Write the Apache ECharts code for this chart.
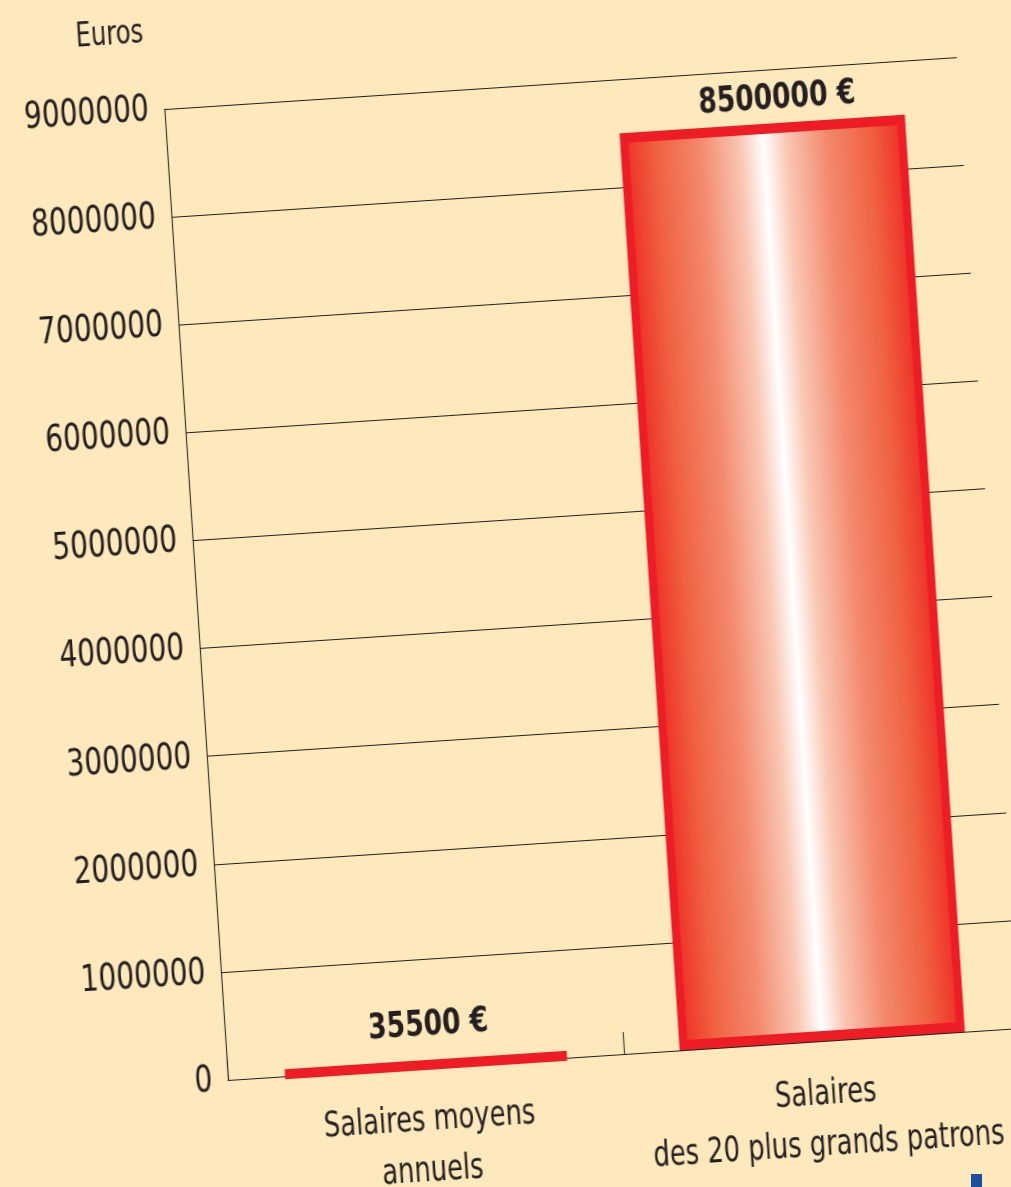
<!DOCTYPE html>
<html>
<head>
<meta charset="utf-8">
<script src="https://cdn.jsdelivr.net/npm/echarts@6/dist/echarts.min.js"></script>
<style>
  html, body { margin: 0; padding: 0; background: #fee9bc; overflow: hidden; width: 1011px; height: 1187px; }
  /* tilted + slightly condensed, like the printed figure */
  #chart {
    position: absolute; left: -200px; top: 0; width: 1500px; height: 1320px;
    transform-origin: 428px 1080px;
    transform: rotate(-3.75deg) scaleX(0.82);
  }
  #blue { position: absolute; left: 971px; top: 1174px; width: 11px; height: 13px; background: #1b4f9f; }
</style>
</head>
<body>
<div id="chart"></div>
<div id="blue"></div>
<script>
const categories = ['Salaires moyens\nannuels', 'Salaires\ndes 20 plus grands patrons'];
const salaries = [35500, 8500000];
const valueLabels = ['35500 €', '8500000 €'];
const yTicks = { min: 0, max: 9000000, interval: 1000000 };

const SQUEEZE = 0.82;
const FONT = '"DejaVu Sans Condensed", "DejaVu Sans", sans-serif';
const INK = '#231f20';

const barFill = new echarts.graphic.LinearGradient(0, 0, 1, 0, [
    { offset: 0, color: '#ee2a24' },
    { offset: 0.12, color: '#f0603f' },
    { offset: 0.28, color: '#f38a6f' },
    { offset: 0.42, color: '#f9c8b4' },
    { offset: 0.5, color: '#ffffff' },
    { offset: 0.58, color: '#f9c8b4' },
    { offset: 0.72, color: '#f38a6f' },
    { offset: 0.88, color: '#f0603f' },
    { offset: 1, color: '#ee2a24' },
]);

// label tweaks per bar (distance above the bar, small horizontal nudge)
const labelDist = [16, 6];
const labelNudge = [6, 20];

const chart = echarts.init(document.getElementById('chart'));
chart.setOption({
    backgroundColor: 'transparent',
    animation: false,
    grid: { left: 428, top: 107, width: 794 / SQUEEZE, height: 973, outerBoundsMode: 'none' },
    xAxis: {
        type: 'category',
        data: categories,
        axisLine: { lineStyle: { color: INK, width: 1.2 } },
        axisTick: { show: true, inside: true, length: 22, lineStyle: { color: INK, width: 1.2 } },
        axisLabel: {
            color: INK, fontFamily: FONT, fontSize: 35, lineHeight: 51, margin: 28,
            interval: 0,
        },
    },
    yAxis: {
        type: 'value',
        min: yTicks.min,
        max: yTicks.max,
        interval: yTicks.interval,
        name: 'Euros',
        nameLocation: 'end',
        nameGap: 60,
        nameTextStyle: { color: INK, fontFamily: FONT, fontSize: 33, align: 'center', padding: [0, 122, 0, 0] },
        axisLine: { show: true, lineStyle: { color: INK, width: 1.2 } },
        axisTick: { show: false },
        axisLabel: { color: INK, fontFamily: FONT, fontSize: 38, margin: 19, formatter: v => String(v) },
        splitLine: { lineStyle: { color: INK, width: 1 } },
    },
    series: [{
        type: 'bar',
        barWidth: '72%',
        data: salaries.map((v, i) => ({
            value: v,
            label: {
                show: true,
                position: 'top',
                distance: labelDist[i],
                offset: [labelNudge[i], 0],
                formatter: valueLabels[i],
                color: INK,
                fontFamily: FONT,
                fontWeight: 'bold',
                fontSize: 36,
            },
        })),
        itemStyle: {
            color: barFill,
            borderColor: '#ee1c25',
            borderWidth: 10,
        },
    }],
});
</script>
</body>
</html>
